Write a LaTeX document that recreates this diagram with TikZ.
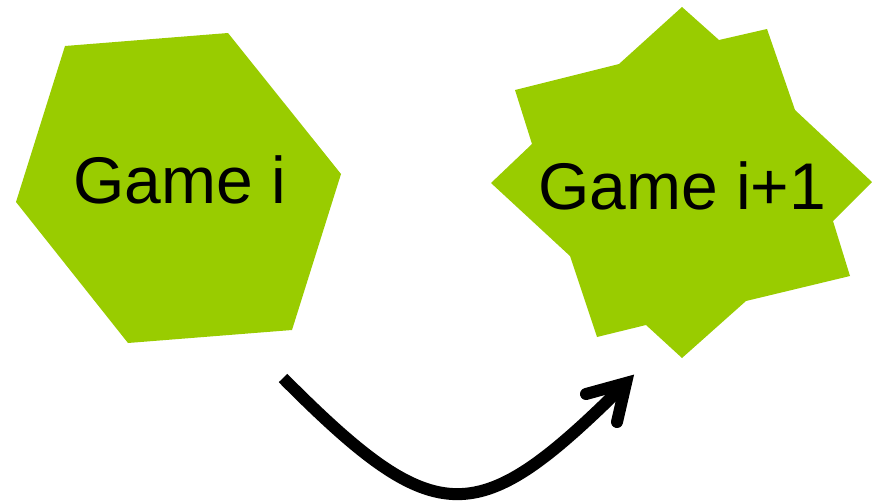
\documentclass[tikz,border=0pt]{standalone}
\usepackage{fontspec}
\setmainfont{Liberation Sans}
\definecolor{leaf}{HTML}{99CC00}
\begin{document}
\begin{tikzpicture}[x=1pt,y=-1pt,
  shapefill/.style={fill=leaf,draw=none},
  label/.style={font=\fontsize{66}{70}\selectfont,anchor=base,inner sep=0pt},
  arrowline/.style={line width=12pt,black}]
\useasboundingbox (0,0) rectangle (872,501);
% hexagon
\fill[shapefill] (65,46) -- (228,33) -- (341,174) -- (292,330) -- (128,343) -- (16,202) -- cycle;
% star
\fill[shapefill] (682,7) -- (719,40) -- (767,29) -- (795,110) -- (872,182) -- (833,221) -- (850,276) -- (746,301) -- (682,358) -- (646,325) -- (597,337) -- (570,256) -- (491,183) -- (532,144) -- (515,90) -- (619,64) -- cycle;
\node[label] (g1) at (180,203) {Game i};
\node[label] (g2) at (682,209) {Game i+1};
% arrow
\coordinate (s) at (283,378);
\coordinate (e) at (626,383);
\coordinate (b1) at (586,394);
\coordinate (b2) at (617,422);
\draw[arrowline,line cap=butt] (s) .. controls (438,534) and (478,530) .. (e);
\draw[arrowline,line cap=round,line join=miter] (b1) -- (e) -- (b2);
\end{tikzpicture}
\end{document}
